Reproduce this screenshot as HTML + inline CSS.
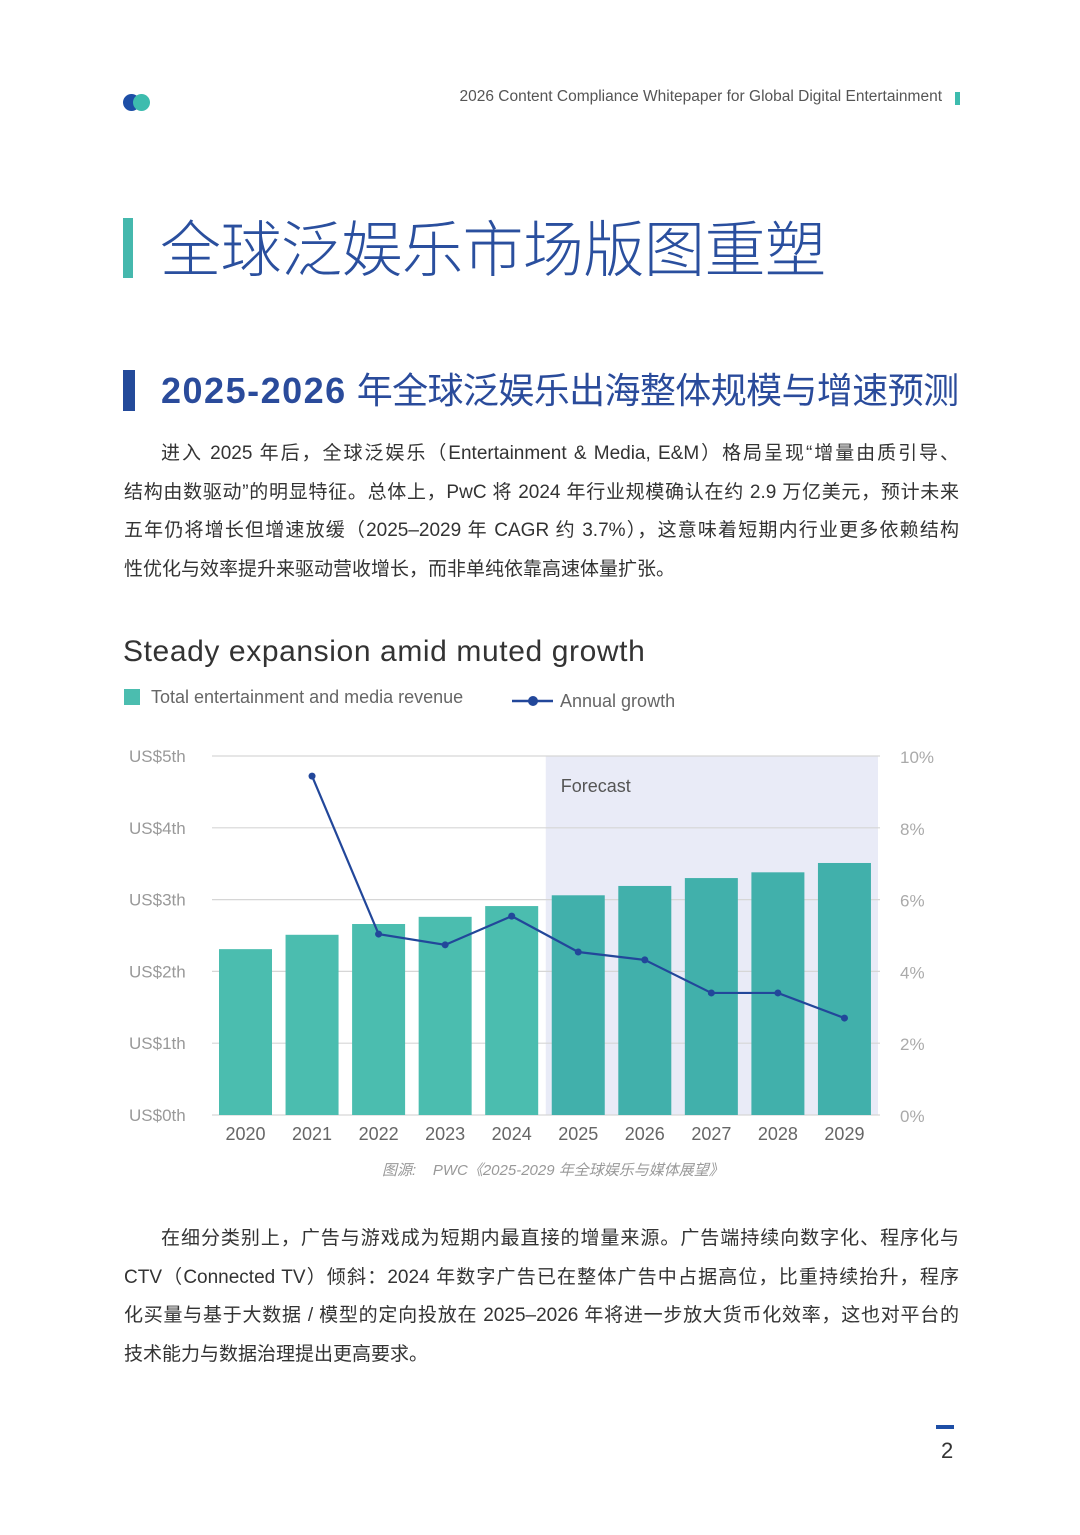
<!DOCTYPE html>
<html><head><meta charset="utf-8">
<style>
*{margin:0;padding:0;box-sizing:border-box}
body{width:1080px;height:1535px;background:#fff;position:relative;overflow:hidden;font-family:"Liberation Sans","Noto Sans CJK SC",sans-serif;color:#333}
.abs{position:absolute}
.p{position:absolute;left:124px;width:835px;font-size:19px;line-height:38.7px;color:#333;text-align:justify;text-align-last:justify}
.p .l{display:block;white-space:nowrap;height:38.7px}
</style></head><body>
<div class="abs" style="left:123px;top:94px;width:30px;height:17px">
<div class="abs" style="left:0;top:0;width:17px;height:17px;border-radius:50%;background:#1d4ea6"></div>
<div class="abs" style="left:10px;top:0;width:17px;height:17px;border-radius:50%;background:#3dbcae"></div>
</div>
<div class="abs" style="right:138px;top:88px;font-size:15.5px;color:#555;white-space:nowrap">2026 Content Compliance Whitepaper for Global Digital Entertainment</div>
<div class="abs" style="left:955px;top:92px;width:5px;height:13px;background:#3dbcae"></div>

<div class="abs" style="left:123px;top:218px;width:10px;height:60px;background:#45b8ad"></div>
<div class="abs" style="left:160px;top:200px;font-size:61px;font-weight:300;color:#2a4f9e;white-space:nowrap;font-family:'Noto Sans CJK SC',sans-serif;letter-spacing:-0.5px">全球泛娱乐市场版图重塑</div>

<div class="abs" style="left:123px;top:370px;width:12px;height:41px;background:#234a9a"></div>
<div class="abs" style="left:161px;top:362px;font-size:36px;color:#2a4b9b;white-space:nowrap;font-family:'Liberation Sans','Noto Sans CJK SC',sans-serif"><b style="letter-spacing:1.5px">2025-2026</b> <span style="font-family:'Noto Sans CJK SC';font-weight:400;letter-spacing:-0.6px">年全球泛娱乐出海整体规模与增速预测</span></div>

<div class="p" style="top:435px">
<span class="l" style="padding-left:37px">进入 2025 年后，全球泛娱乐（Entertainment &amp; Media, E&amp;M）格局呈现“增量由质引导、</span>
<span class="l">结构由数驱动”的明显特征。总体上，PwC 将 2024 年行业规模确认在约 2.9 万亿美元，预计未来</span>
<span class="l">五年仍将增长但增速放缓（2025–2029 年 CAGR 约 3.7%），这意味着短期内行业更多依赖结构</span>
<span class="l" style="text-align-last:left">性优化与效率提升来驱动营收增长，而非单纯依靠高速体量扩张。</span>
</div>

<div class="abs" style="left:123px;top:635px;font-size:30px;color:#333;white-space:nowrap;letter-spacing:0.6px">Steady expansion amid muted growth</div>

<svg class="abs" style="left:0;top:0" width="1080" height="1535" id="chart"></svg>

<div class="abs" style="left:382px;top:1159px;font-size:15px;color:#999;font-style:italic;white-space:nowrap">图源:&nbsp;&nbsp;&nbsp; PWC《2025-2029 年全球娱乐与媒体展望》</div>

<div class="p" style="top:1220px">
<span class="l" style="padding-left:37px">在细分类别上，广告与游戏成为短期内最直接的增量来源。广告端持续向数字化、程序化与</span>
<span class="l">CTV（Connected TV）倾斜：2024 年数字广告已在整体广告中占据高位，比重持续抬升，程序</span>
<span class="l">化买量与基于大数据 / 模型的定向投放在 2025–2026 年将进一步放大货币化效率，这也对平台的</span>
<span class="l" style="text-align-last:left">技术能力与数据治理提出更高要求。</span>
</div>

<div class="abs" style="left:936px;top:1425px;width:18px;height:4px;background:#1d4ea6"></div>
<div class="abs" style="left:941px;top:1438px;font-size:22px;color:#333">2</div>

<script>
const years=["2020","2021","2022","2023","2024","2025","2026","2027","2028","2029"];
const revenue=[2.31,2.51,2.66,2.76,2.91,3.06,3.19,3.30,3.38,3.51];
const growth=[null,9.44,5.04,4.74,5.54,4.54,4.32,3.40,3.40,2.70];
const leftTicks=["US$0th","US$1th","US$2th","US$3th","US$4th","US$5th"];
const rightTicks=["0%","2%","4%","6%","8%","10%"];
const forecastStart=5;
const NS="http://www.w3.org/2000/svg";
const svg=document.getElementById('chart');
const y0=1115,yTop=756,x0=212,pitch=66.55,barW=53,firstX=219;
const yL=v=>y0-(v/5)*(y0-yTop);
const yR=v=>y0-(v/10)*(y0-yTop);
const xB=i=>firstX+i*pitch;
function mk(t,a){const e=document.createElementNS(NS,t);for(const k in a)e.setAttribute(k,a[k]);svg.appendChild(e);return e;}
let fb=mk('rect',{x:xB(forecastStart)-6,y:yTop,width:878-(xB(forecastStart)-6),height:y0-yTop,fill:'#e9ebf7'});


let ft=mk('text',{x:xB(forecastStart)+9,y:792,'font-size':18,fill:'#555','font-family':'Liberation Sans'});ft.textContent='Forecast';


leftTicks.forEach((t,i)=>{
 const y=yL(i);
 const g=mk('line',{x1:x0,x2:880,y1:y,y2:y,stroke:'#d6d6d6','stroke-width':1.2});
 
 
 const tx=mk('text',{x:129,y:y+6,'font-size':17,fill:'#999','font-family':'Liberation Sans'});tx.textContent=t;
 
 
});
rightTicks.forEach((t,i)=>{
 const tx=mk('text',{x:900,y:yR(i*2)+7,'font-size':17,fill:'#aaa','font-family':'Liberation Sans'});tx.textContent=t;
 
 
});
years.forEach((yr,i)=>{
 const b=mk('rect',{x:xB(i),y:yL(revenue[i]),width:barW,height:y0-yL(revenue[i]),fill:i>=forecastStart?'#41b0ab':'#4bbdaf'});
 
 
 const tx=mk('text',{x:xB(i)+barW/2,y:1140,'font-size':18,fill:'#666','text-anchor':'middle','font-family':'Liberation Sans'});tx.textContent=yr;
 
 
});
let pts=[];growth.forEach((g,i)=>{if(g!==null)pts.push([xB(i)+barW/2,yR(g)]);});
const pl=mk('polyline',{points:pts.map(p=>p.join(',')).join(' '),fill:'none',stroke:'#22479a','stroke-width':2.2});


pts.forEach(p=>{const c=mk('circle',{cx:p[0],cy:p[1],r:3.5,fill:'#22479a'});
 
 });
const l1=mk('rect',{x:124,y:689,width:16,height:16,fill:'#4bbdaf'});


const lt1=mk('text',{x:151,y:703,'font-size':18,fill:'#666','font-family':'Liberation Sans'});lt1.textContent='Total entertainment and media revenue';


const l2=mk('line',{x1:512,x2:553,y1:701,y2:701,stroke:'#22479a','stroke-width':2.5});


const l2c=mk('circle',{cx:533,cy:701,r:5,fill:'#22479a'});


const lt2=mk('text',{x:560,y:707,'font-size':18,fill:'#666','font-family':'Liberation Sans'});lt2.textContent='Annual growth';


</script>
</body></html>
